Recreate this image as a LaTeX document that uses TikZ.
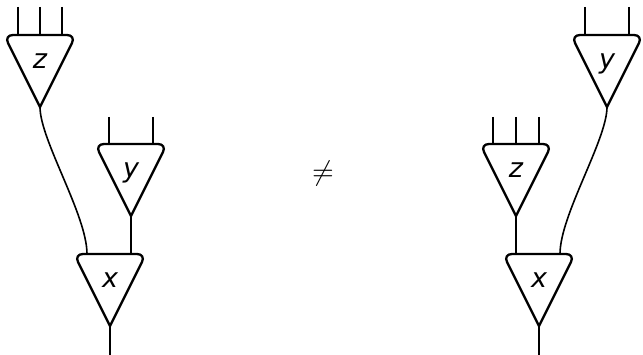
\documentclass[tikz,border=0pt]{standalone}
\usepackage{fontspec}
\usepackage{graphicx}
\setmainfont{DejaVu Sans}
\usetikzlibrary{calc}
\begin{document}
\begin{tikzpicture}[x=1pt,y=-1pt,
  gate/.style={line width=2.3pt, line join=miter},
  wire/.style={line width=1.6pt},
  lbl/.style={font=\fontsize{27}{27}\selectfont\itshape, anchor=base, inner sep=0pt}]
\useasboundingbox (0,0) rectangle (643,355);
% gate macro: name, centre x, top y, label
\newcommand\gatebox[4]{%
  \coordinate (#1-tl) at ({#2-36},#3);
  \coordinate (#1-tr) at ({#2+36},#3);
  \coordinate (#1-apex) at (#2,{#3+72});
  \draw[gate] (#1-apex) [rounded corners=9pt] -- (#1-tl) -- (#1-tr) [sharp corners] -- cycle;
  \node[lbl] (#1-lbl) at (#2,{#3+34}) {#4};
}
% ---------- left diagram ----------
\gatebox{zL}{40}{35}{z}
\gatebox{yL}{131}{144}{y}
\gatebox{xL}{110}{254}{x}
\foreach \i/\dx in {1/-22,2/0,3/22}{
  \coordinate (zL-in\i) at ({40+\dx},35);
  \coordinate (zL-end\i) at ({40+\dx},7);
  \draw[wire] (zL-end\i) -- (zL-in\i);
}
\foreach \i/\dx in {1/-22,2/22}{
  \coordinate (yL-in\i) at ({131+\dx},144);
  \coordinate (yL-end\i) at ({131+\dx},117);
  \draw[wire] (yL-end\i) -- (yL-in\i);
}
\coordinate (xL-in1) at (87,254);
\coordinate (xL-in2) at (131,254);
\coordinate (xL-out) at (110,355);
\draw[wire] (zL-apex) .. controls ($(zL-apex)+(0,33)$) and ($(xL-in1)+(0,-39)$) .. (xL-in1);
\draw[wire] (yL-apex) -- (xL-in2);
\draw[wire] (xL-apex) -- (xL-out);
% ---------- not equal ----------
\node[inner sep=0pt] (neq) at (323,174) {\scalebox{2.8}{$\neq$}};
% ---------- right diagram ----------
\gatebox{yR}{607}{35}{y}
\gatebox{zR}{516}{144}{z}
\gatebox{xR}{539}{254}{x}
\foreach \i/\dx in {1/-22,2/22}{
  \coordinate (yR-in\i) at ({607+\dx},35);
  \coordinate (yR-end\i) at ({607+\dx},7);
  \draw[wire] (yR-end\i) -- (yR-in\i);
}
\foreach \i/\dx in {1/-23,2/0,3/23}{
  \coordinate (zR-in\i) at ({516+\dx},144);
  \coordinate (zR-end\i) at ({516+\dx},117);
  \draw[wire] (zR-end\i) -- (zR-in\i);
}
\coordinate (xR-in1) at (516,254);
\coordinate (xR-in2) at (560,254);
\coordinate (xR-out) at (539,355);
\draw[wire] (zR-apex) -- (xR-in1);
\draw[wire] (yR-apex) .. controls ($(yR-apex)+(0,33)$) and ($(xR-in2)+(0,-39)$) .. (xR-in2);
\draw[wire] (xR-apex) -- (xR-out);
\end{tikzpicture}
\end{document}
